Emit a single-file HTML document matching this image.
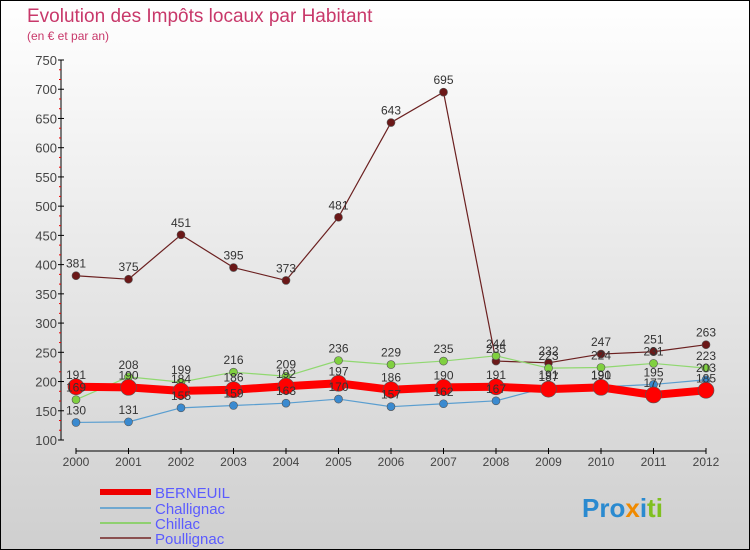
<!DOCTYPE html>
<html><head><meta charset="utf-8"><style>
body{margin:0;width:750px;height:550px;overflow:hidden}
svg{display:block;font-family:"Liberation Sans",sans-serif}
</style></head><body>
<svg id="c" width="750" height="550" viewBox="0 0 750 550" xmlns="http://www.w3.org/2000/svg">
<defs><linearGradient id="bg" x1="0" y1="0" x2="0" y2="1"><stop offset="0" stop-color="#ffffff"/><stop offset="1" stop-color="#cfcfcf"/></linearGradient></defs>
<rect x="0.5" y="0.5" width="749" height="549" fill="url(#bg)" stroke="#000"/>
<text x="27" y="22" font-size="19" fill="#c8386a">Evolution des Impôts locaux par Habitant</text>
<text x="27" y="40" font-size="12" fill="#c8386a">(en € et par an)</text>
<g id="axes"></g><g id="series"></g><g id="labels"></g>
<g font-size="15" fill="#5b5bff">
<line x1="100" y1="492" x2="151" y2="492" stroke="#e00" stroke-width="6"/>
<text x="155" y="498">BERNEUIL</text>
<line x1="100" y1="508" x2="151" y2="508" stroke="#6fa8d0" stroke-width="2"/>
<text x="155" y="514">Challignac</text>
<line x1="100" y1="523" x2="151" y2="523" stroke="#8fd070" stroke-width="2"/>
<text x="155" y="529">Chillac</text>
<line x1="100" y1="538" x2="151" y2="538" stroke="#8a5050" stroke-width="2"/>
<text x="155" y="544">Poullignac</text>
</g>
<text x="582" y="517" font-size="26" font-weight="bold"><tspan fill="#2a8ad0">Pro</tspan><tspan fill="#f08a00">x</tspan><tspan fill="#2a8ad0">i</tspan><tspan fill="#80c020">ti</tspan></text>
</svg>
<script>
const years=["2000","2001","2002","2003","2004","2005","2006","2007","2008","2009","2010","2011","2012"];
const yTicks=[100,150,200,250,300,350,400,450,500,550,600,650,700,750];
const berneuil=[191,190,184,186,192,197,186,190,191,187,190,177,185];
const challignac=[130,131,155,159,163,170,157,162,167,191,191,195,203];
const chillac=[169,208,199,216,209,236,229,235,244,223,224,231,223];
const poullignac=[381,375,451,395,373,481,643,695,235,232,247,251,263];
const NS="http://www.w3.org/2000/svg";
const X=i=>76+i*52.5;
const Y=v=>440-(v-100)*380/650;
function mk(t,a,p){const e=document.createElementNS(NS,t);for(const k in a)e.setAttribute(k,a[k]);p.appendChild(e);return e;}
const ax=document.getElementById('axes'),sg=document.getElementById('series'),lg=document.getElementById('labels');
let e=mk('line',{x1:61,y1:60,x2:61,y2:440,stroke:'#000'},ax);


e=mk('line',{x1:X(0),y1:451,x2:X(12),y2:451,stroke:'#000'},ax);


yTicks.forEach((v,k)=>{mk('line',{x1:58,y1:Y(v),x2:64,y2:Y(v),stroke:'#000'},ax);
 if(k<yTicks.length-1){for(let m=1;m<3;m++)mk('line',{x1:59,y1:Y(v+m*50/3),x2:61,y2:Y(v+m*50/3),stroke:'#e00'},ax);}
 const t=mk('text',{x:57,y:Y(v)+5,'text-anchor':'end','font-size':13,fill:'#444'},ax);t.textContent=v;
 
 });
years.forEach((y,i)=>{mk('line',{x1:X(i),y1:448,x2:X(i),y2:454,stroke:'#000'},ax);
 const t=mk('text',{x:X(i),y:466,'text-anchor':'middle','font-size':12,fill:'#444'},ax);t.textContent=y;
 
 });
function series(d,name,col,w,r,dot){
 const pts=d.map((v,i)=>X(i)+','+Y(v)).join(' ');
 const pl=mk('polyline',{points:pts,fill:'none',stroke:col,'stroke-width':w,'stroke-linejoin':'round'},sg);
 
 
 d.forEach((v,i)=>{const c=mk('circle',{cx:X(i),cy:Y(v),r:r,fill:dot,stroke:'#555','stroke-width':0.6},sg);
  
  
  const t=mk('text',{x:X(i),y:Y(v)-8,'text-anchor':'middle','font-size':12,fill:'#333'},lg);t.textContent=v;
  
  });
}
series(poullignac,'poullignac','#6b2020',1.2,4,'#6b1818');
series(chillac,'chillac','#90d870',1.2,4,'#80d040');
series(challignac,'challignac','#5a9ed0',1.2,4,'#3a8ad0');
series(berneuil,'berneuil','#f00',8,8,'#f00');
</script>
</body></html>
